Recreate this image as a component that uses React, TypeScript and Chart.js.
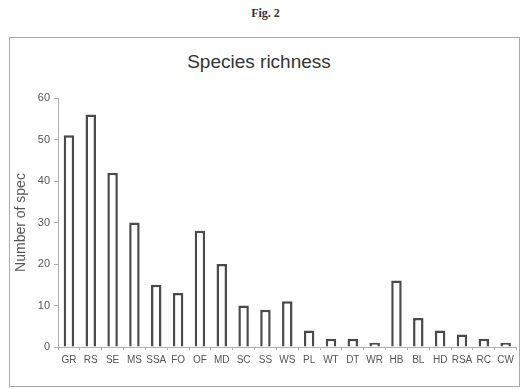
import React, { useEffect, useRef } from "react";
import { Chart, registerables } from "chart.js";

Chart.register(...registerables);

const categories = ["GR","RS","SE","MS","SSA","FO","OF","MD","SC","SS","WS","PL","WT","DT","WR","HB","BL","HD","RSA","RC","CW"];
const speciesCounts = [51,56,42,30,15,13,28,20,10,9,11,4,2,2,1,16,7,4,3,2,1];
const yTicks = [0,10,20,30,40,50,60];

const FONT = "'Liberation Sans', Arial, sans-serif";
const AXIS_GRAY = "#b0b0b0";
const TEXT_GRAY = "#555";

export default function App() {
  const ref = useRef<HTMLCanvasElement | null>(null);

  useEffect(() => {
    if (!ref.current) return;
    const chart = new Chart(ref.current, {
      type: "bar",
      data: {
        labels: categories,
        datasets: [
          {
            data: speciesCounts,
            backgroundColor: "#ffffff",
            borderColor: "#4a4a4a",
            borderWidth: 2.5,
            categoryPercentage: 1,
            barPercentage: 0.48,
          },
        ],
      },
      options: {
        animation: false,
        responsive: false,
        maintainAspectRatio: false,
        layout: { padding: { left: 0, right: 1, top: 59, bottom: 0 } },
        plugins: {
          legend: { display: false },
          tooltip: { enabled: false },
          title: { display: false },
        },
        scales: {
          x: {
            offset: true,
            grid: {
              display: true,
              drawOnChartArea: false,
              drawTicks: true,
              tickLength: 3,
              color: AXIS_GRAY,
              offset: true,
            },
            border: { display: true, color: AXIS_GRAY, width: 1 },
            ticks: {
              color: TEXT_GRAY,
              font: { family: FONT, size: 10 },
              padding: 4,
              maxRotation: 0,
              autoSkip: false,
            },
            afterFit: (s: any) => {
              s.height = 38;
            },
          },
          y: {
            min: 0,
            max: 60,
            afterBuildTicks: (s: any) => {
              s.ticks = yTicks.map((v) => ({ value: v }));
            },
            grid: {
              display: true,
              drawOnChartArea: false,
              drawTicks: true,
              tickLength: 4,
              color: AXIS_GRAY,
            },
            border: { display: true, color: AXIS_GRAY, width: 1 },
            ticks: {
              color: TEXT_GRAY,
              font: { family: FONT, size: 11 },
              padding: 4,
            },
            title: {
              display: true,
              text: "Number of spec",
              color: TEXT_GRAY,
              font: { family: FONT, size: 14 },
              padding: { top: 3, bottom: 0 },
            },
            afterFit: (s: any) => {
              s.width = 48;
            },
          },
        },
      },
    });
    return () => chart.destroy();
  }, []);

  return (
    <div
      style={{
        position: "absolute",
        left: 0,
        top: 0,
        width: 531,
        height: 389,
        background: "#ffffff",
        overflow: "hidden",
      }}
    >
      <div
        style={{
          position: "absolute",
          left: 0,
          top: 6,
          width: 531,
          textAlign: "center",
          fontFamily: "'Liberation Serif', 'DejaVu Serif', serif",
          fontWeight: "bold",
          fontSize: 12,
          color: "#333",
        }}
      >
        Fig. 2
      </div>
      <div
        style={{
          position: "absolute",
          left: 9,
          top: 37,
          width: 509,
          height: 348,
          border: "1px solid #aaa",
        }}
      >
        <div
          style={{
            position: "absolute",
            left: 149,
            top: 12,
            width: 200,
            textAlign: "center",
            fontFamily: FONT,
            fontSize: 19,
            lineHeight: "24px",
            color: "#333",
          }}
        >
          Species richness
        </div>
        <canvas ref={ref} width={508} height={346} style={{ display: "block", position: "absolute", left: 0, top: 1 }} />
      </div>
    </div>
  );
}
